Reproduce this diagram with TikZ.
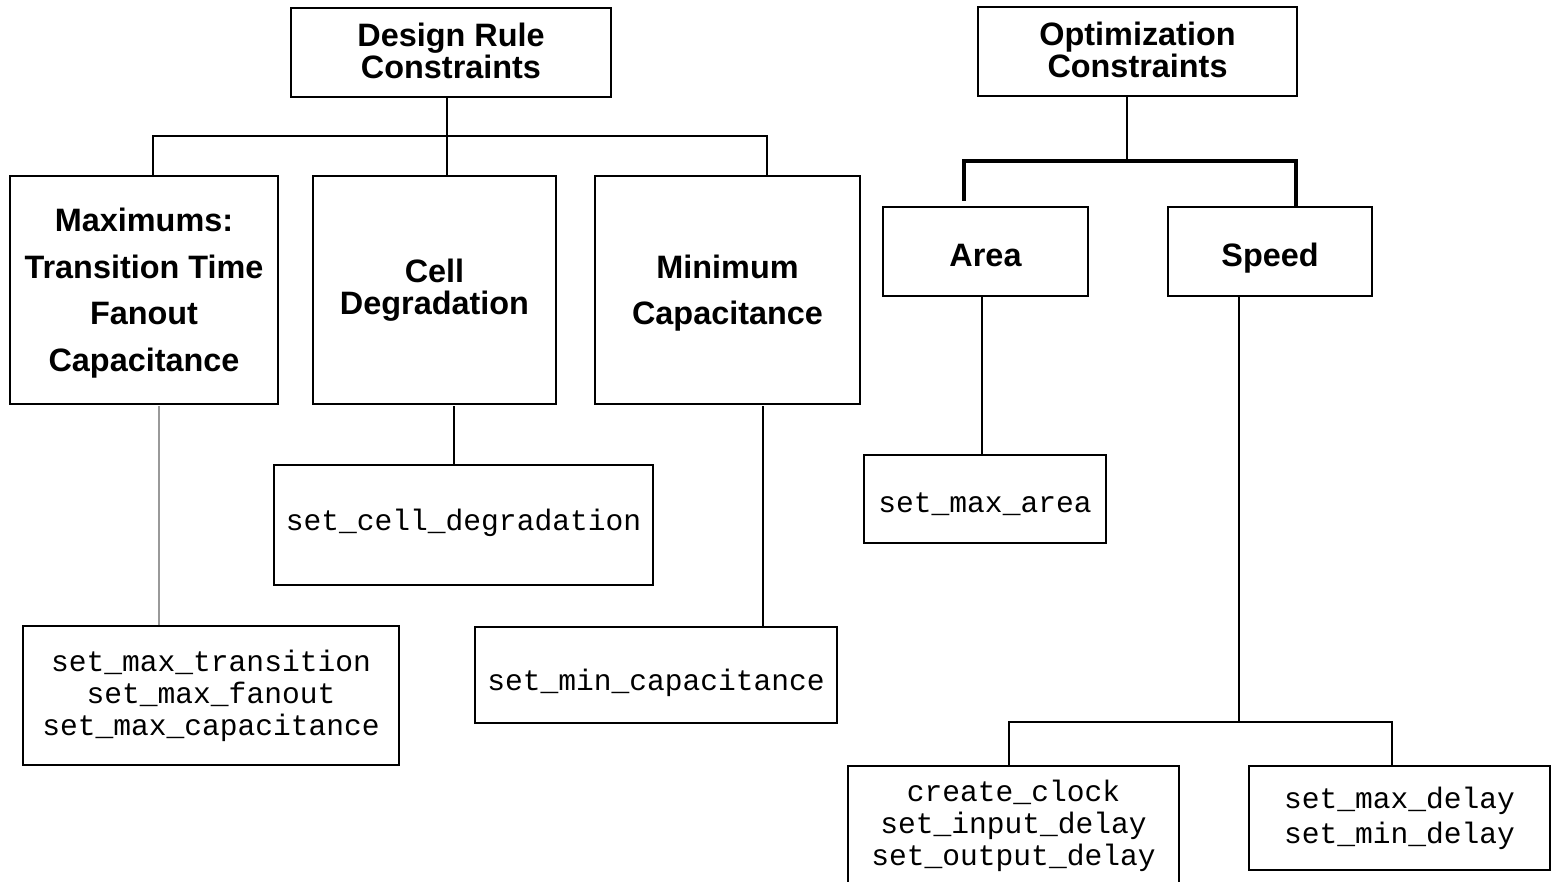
\documentclass[tikz,border=0pt]{standalone}
\usepackage{fontspec}
\setmainfont{Liberation Sans}
\newfontfamily\monof{Liberation Mono}
\newcommand{\shiftline}[2]{\raisebox{#1}[\height][\depth]{#2}}
\begin{document}
\begin{tikzpicture}[x=0.5pt,y=-0.5pt,
  box/.style={draw=black, line width=0.9pt, inner sep=0pt, align=center},
  head/.style={box, font=\bfseries\fontsize{16.2}{16}\selectfont},
  headwide/.style={box, font=\bfseries\fontsize{16.2}{23.3}\selectfont},
  cmd/.style={box, font=\monof\fontsize{14.8}{16}\selectfont},
  cmdwide/.style={box, font=\monof\fontsize{14.8}{17.5}\selectfont},
  link/.style={draw=black, line width=0.9pt},
  thicklink/.style={draw=black, line width=2pt},
  greylink/.style={draw=gray!80, line width=0.8pt}]
\useasboundingbox (0,0) rectangle (1552,882);
\clip (0,0) rectangle (1552,882);
% Design rule branch
\node[head, minimum width=160pt, minimum height=44.5pt] (drc) at (451,52.5) {\shiftline{1pt}{Design Rule}\\\shiftline{1pt}{Constraints}};
\node[headwide, minimum width=134pt, minimum height=114pt] (max) at (144,290) {\shiftline{-1.5pt}{Maximums:}\\\shiftline{-1.5pt}{Transition Time}\\\shiftline{-1.5pt}{Fanout}\\\shiftline{-1.5pt}{Capacitance}};
\node[head, minimum width=121.5pt, minimum height=114pt] (cell) at (434.5,290) {Cell\\Degradation};
\node[headwide, minimum width=132.5pt, minimum height=114pt] (minc) at (727.5,290) {\shiftline{-1.5pt}{Minimum}\\\shiftline{-1.5pt}{Capacitance}};
\node[cmd, minimum width=188pt, minimum height=69.5pt] (smax) at (211,695.5) {set\_max\_transition\\set\_max\_fanout\\set\_max\_capacitance};
\node[cmd, minimum width=189.5pt, minimum height=60pt] (scell) at (463.5,525) {\shiftline{1pt}{set\_cell\_degradation}};
\node[cmd, minimum width=181pt, minimum height=48pt] (smin) at (656,675) {\shiftline{-4pt}{set\_min\_capacitance}};
% Optimization branch
\node[head, minimum width=159.5pt, minimum height=44.5pt] (opt) at (1137.5,51.5) {\shiftline{1pt}{Optimization}\\\shiftline{1pt}{Constraints}};
\node[head, minimum width=102.5pt, minimum height=44.5pt] (area) at (985.5,251.5) {\shiftline{-2pt}{Area}};
\node[head, minimum width=102pt, minimum height=44.5pt] (speed) at (1270,251.5) {\shiftline{-3.5pt}{Speed}};
\node[cmd, minimum width=121pt, minimum height=44pt] (sarea) at (985,499) {\shiftline{-2.5pt}{set\_max\_area}};
\node[cmd, minimum width=165.5pt, minimum height=60pt] (sclk) at (1013.5,826) {create\_clock\\set\_input\_delay\\set\_output\_delay};
\node[cmdwide, minimum width=150.5pt, minimum height=52pt] (sdel) at (1399.5,818) {set\_max\_delay\\set\_min\_delay};
% connectors, design rule tree
\coordinate (b0) at (447,136);
\coordinate (b1) at (153,136);
\coordinate (b2) at (767,136);
\draw[link] (b0 |- drc.south) -- (b0 |- cell.north);
\draw[link] (b1 |- max.north) -- (b1) -- (b2) -- (b2 |- minc.north);
\coordinate (v1) at (159,406);
\draw[greylink] (v1) -- (v1 |- smax.north);
\coordinate (v2) at (454,406);
\draw[link] (v2) -- (v2 |- scell.north);
\coordinate (v3) at (763,406);
\draw[link] (v3) -- (v3 |- smin.north);
% connectors, optimization tree
\coordinate (o0) at (1127,161);
\coordinate (o1) at (964,161);
\coordinate (o2) at (1296,161);
\coordinate (o1e) at (964,201);
\draw[link] (o0 |- opt.south) -- (o0);
\draw[thicklink] (o1e) -- (o1) -- (o2) -- (o2 |- speed.north);
\coordinate (v4) at (982,0);
\draw[link] (v4 |- area.south) -- (v4 |- sarea.north);
\coordinate (s0) at (1239,722);
\coordinate (s1) at (1009,722);
\coordinate (s2) at (1392,722);
\draw[link] (s0 |- speed.south) -- (s0);
\draw[link] (s1 |- sclk.north) -- (s1) -- (s2) -- (s2 |- sdel.north);
\end{tikzpicture}
\end{document}
